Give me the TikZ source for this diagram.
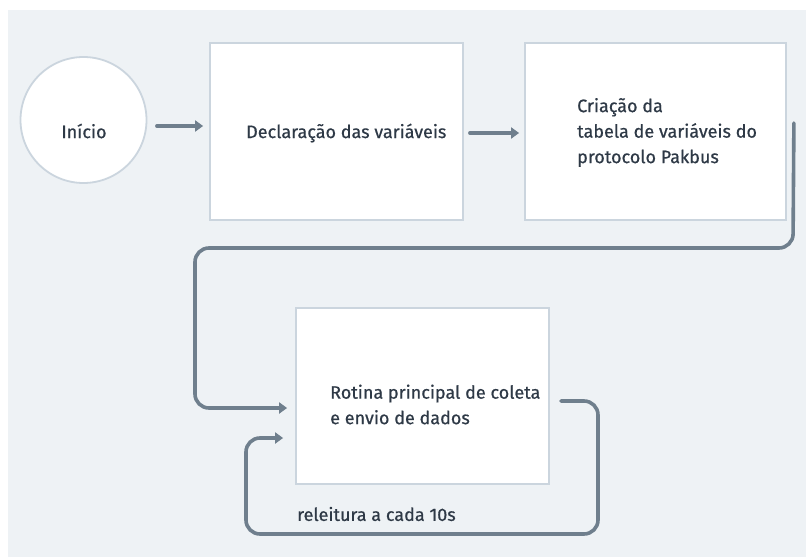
\documentclass[tikz,border=0pt]{standalone}
\usepackage{fontspec}
\setmainfont[FakeBold=0.6]{Fira Sans}
\usetikzlibrary{arrows.meta,calc}
\definecolor{bg}{HTML}{EEF2F5}
\definecolor{boxline}{HTML}{CBD5DE}
\definecolor{conn}{HTML}{6F7F8D}
\definecolor{txt}{HTML}{2E3946}
\tikzset{
  boxnode/.style={draw=boxline, line width=1.8pt, fill=white, rectangle, inner sep=0pt},
  startnode/.style={draw=boxline, line width=1.8pt, fill=white, circle, inner sep=0pt, minimum size=126pt},
  lbl/.style={text=txt, font=\fontsize{18}{25.5}\selectfont, inner sep=0pt, anchor=west, align=left},
  arr/.style={draw=conn, line width=3.6pt, line cap=round, -{Triangle[length=8pt,width=11pt]}},
  conline/.style={draw=conn, line width=3.6pt, line cap=round, rounded corners=14pt, -{Triangle[length=8pt,width=11pt]}}
}
\begin{document}
\begin{tikzpicture}[x=1pt,y=-1pt]
\useasboundingbox (0,0) rectangle (806,557);
\fill[bg] (8,10) rectangle (806,557);
\node[startnode] (start) at (83.5,120) {};
\node[text=txt, font=\fontsize{18}{20}\selectfont, inner sep=0pt] (starttxt) at (84,131) {Início};
\node[boxnode, minimum width=253pt, minimum height=177pt] (box1) at (336.5,131.5) {};
\node[boxnode, minimum width=261pt, minimum height=177pt] (box2) at (655.5,131.5) {};
\node[boxnode, minimum width=253pt, minimum height=176pt] (box3) at (422.5,396) {};
\node[lbl] (t1) at (246,133) {Declaração das variáveis};
\node[lbl] (t2) at (577,132.5) {Criação da\\tabela de variáveis do\\protocolo Pakbus};
\node[lbl] (t3) at (330,404.5) {Rotina principal de coleta\\e envio de dados};
\node[lbl] (t4) at (297,514) {releitura a cada 10s};
\draw[arr] ([shift={(9.5,6)}]start.east) -- ([shift={(-6,-5.5)}]box1.west);
\draw[arr] ([shift={(6,1.5)}]box1.east) -- ([shift={(-5,1.5)}]box2.west);
\draw[conline] ([shift={(7,-8.5)}]box2.east) -- (793,248) -- (195,248) -- (195,408) -- ([shift={(-8,12)}]box3.west);
\draw[conline] ([shift={(11,5)}]box3.east) -- (598,401) -- (598,534) -- (246,534) -- (246,438) -- ([shift={(-12,42)}]box3.west);
\end{tikzpicture}
\end{document}
